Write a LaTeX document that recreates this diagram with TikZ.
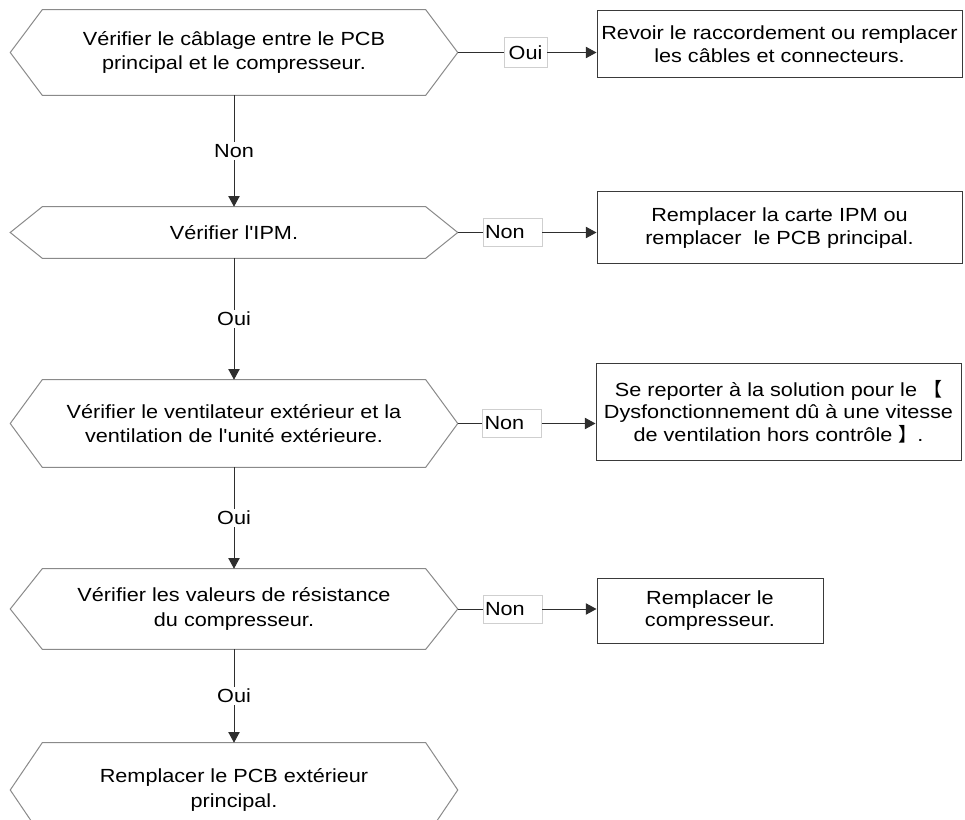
\documentclass[tikz,border=0pt]{standalone}
\usepackage{fontspec}
\setmainfont{Liberation Sans}[FakeStretch=1.14,Ligatures=TeXOff]
\newfontfamily\cjkfont{Noto Sans CJK SC}
\usetikzlibrary{arrows.meta}

\definecolor{hexgray}{HTML}{8A8A8A}
\definecolor{boxgray}{HTML}{3A3A3A}
\definecolor{linegray}{HTML}{2E2E2E}
\definecolor{lblgray}{HTML}{CFCFCF}

\begin{document}
\begin{tikzpicture}[x=0.75pt,y=-0.75pt,
    hexa/.style={inner sep=0pt,align=center,minimum width=335.25pt,
        font=\fontsize{14.25}{18.4}\selectfont,
        append after command={\pgfextra{\let\hexnode\tikzlastnode
            \draw[hexgray,line width=0.75pt] (\hexnode.west)
              -- ([xshift=24pt]\hexnode.north west) -- ([xshift=-24pt]\hexnode.north east)
              -- (\hexnode.east)
              -- ([xshift=-24pt]\hexnode.south east) -- ([xshift=24pt]\hexnode.south west)
              -- cycle;}}},
    rbox/.style={draw=boxgray,line width=0.75pt,inner sep=0pt,align=center,
        minimum width=273.75pt,font=\fontsize{14.25}{17}\selectfont},
    lbl/.style={draw=lblgray,fill=white,line width=0.6pt,inner sep=0pt,
        minimum height=21pt,font=\fontsize{14.25}{17}\selectfont},
    nolbl/.style={lbl,text width=41.25pt,inner xsep=1.5pt,align=left},
    vlbl/.style={fill=white,inner sep=1.5pt,font=\fontsize{14.25}{17}\selectfont},
    link/.style={draw=linegray,line width=0.75pt},
    arr/.style={link,-{Triangle[length=8pt,width=8.5pt]}}]
    \useasboundingbox (0,0) rectangle (965,820);
    \clip (0,0) rectangle (965,820);

    % checks, left column
    \node[hexa,minimum height=63.75pt] (chk1) at (234,52.5) {Vérifier le câblage entre le PCB\\principal\ et le compresseur.};
    \node[hexa,minimum height=38.25pt] (chk2) at (234,232.5) {Vérifier l'IPM.};
    \node[hexa,minimum height=65.25pt] (chk3) at (234,423.5) {Vérifier le ventilateur\ extérieur et la\\ventilation\ de l'unité\ extérieure.};
    \node[hexa,minimum height=60pt] (chk4) at (234,609) {Vérifier les valeurs\ de résistance\\du compresseur.};
    \node[hexa,minimum height=70.5pt] (chk5) at (234,790) {Remplacer le PCB extérieur\\principal.};

    % remedies, right column
    \node[rbox,minimum height=50.25pt] (fix1) at (779.5,44.5) {Revoir le raccordement ou remplacer\\les câbles et connecteurs.};
    \node[rbox,minimum height=54pt] (fix2) at (779.5,228) {Remplacer la carte IPM ou\\remplacer\ \ le PCB principal.};
    \node[rbox,minimum height=72.75pt] (fix3) at (778.5,411.5) {Se reporter à la solution\ pour le {\cjkfont 【}\\Dysfonctionnement\ dû à une vitesse\\de ventilation\ hors contrôle {\cjkfont 】}.};
    \node[rbox,minimum width=169.5pt,minimum height=48.75pt] (fix4) at (710,610.5) {Remplacer le\\compresseur.};

    % branch labels
    \node[lbl,minimum width=32.25pt,minimum height=22.5pt] (yes1) at (525.5,52.5) {Oui};
    \node[nolbl] (no2) at (512.5,232.5) {Non};
    \node[nolbl] (no3) at (512,423.5) {Non};
    \node[nolbl] (no4) at (512.5,609) {Non};

    \draw[link] (chk1.east) -- (yes1.west);
    \draw[arr] (yes1.east) -- (yes1.east -| fix1.west);
    \draw[link] (chk2.east) -- (no2.west);
    \draw[arr] (no2.east) -- (no2.east -| fix2.west);
    \draw[link] (chk3.east) -- (no3.west);
    \draw[arr] (no3.east) -- (no3.east -| fix3.west);
    \draw[link] (chk4.east) -- (no4.west);
    \draw[arr] (no4.east) -- (no4.east -| fix4.west);

    \draw[arr] (chk1.south) -- node[vlbl] {Non} (chk2.north);
    \draw[arr] (chk2.south) -- node[vlbl] {Oui} (chk3.north);
    \draw[arr] (chk3.south) -- node[vlbl] {Oui} (chk4.north);
    \draw[arr] (chk4.south) -- node[vlbl] {Oui} (chk5.north);
\end{tikzpicture}
\end{document}
